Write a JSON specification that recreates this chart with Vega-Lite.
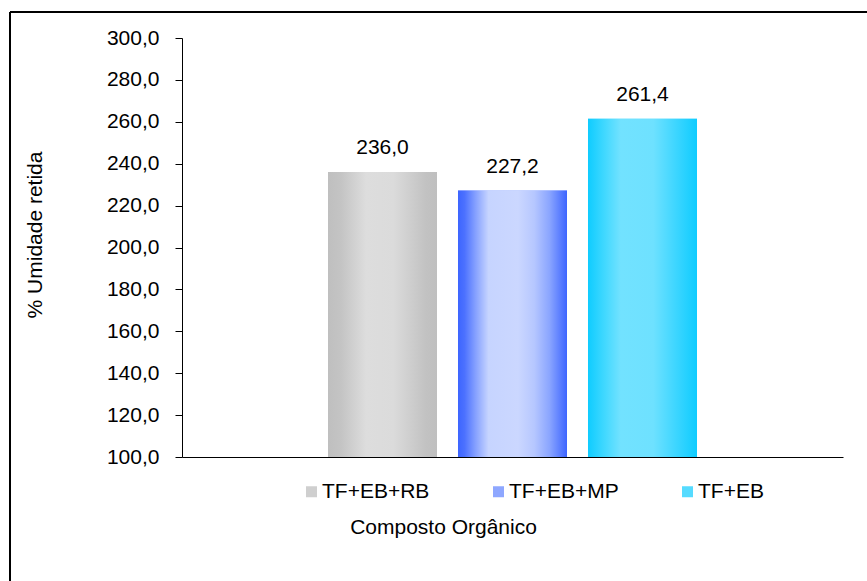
{
  "$schema": "https://vega.github.io/schema/vega-lite/v6.json",
  "width": 857,
  "height": 569,
  "autosize": {"type": "none"},
  "padding": {"left": 10, "top": 12, "right": 0, "bottom": 0},
  "background": "white",
  "config": {
    "locale": {"number": {"decimal": ",", "thousands": ".", "grouping": [3], "currency": ["R$", ""]}},
    "view": {"stroke": "black", "strokeWidth": 2, "fill": "white", "strokeDash": [857, 1426, 569, 0]},
    "font": "Liberation Sans",
    "axis": {"grid": false}
  },
  "data": {
    "values": [
      {"composto": "TF+EB+RB", "umidade": 236.0},
      {"composto": "TF+EB+MP", "umidade": 227.2},
      {"composto": "TF+EB", "umidade": 261.4}
    ]
  },
  "encoding": {
    "x": {
      "datum": "Composto Orgânico",
      "type": "nominal",
      "scale": {"range": [172, 833], "paddingInner": 0, "paddingOuter": 0},
      "axis": {
        "title": "Composto Orgânico",
        "labels": false,
        "ticks": false,
        "offset": -124,
        "domainColor": "black",
        "domainWidth": 1,
        "titleFont": "Liberation Sans",
        "titleFontSize": 21,
        "titleFontWeight": "normal",
        "titleColor": "black",
        "titleX": 433,
        "titleY": 76,
        "titleAlign": "center",
        "titleBaseline": "alphabetic"
      }
    },
    "xOffset": {
      "field": "composto",
      "type": "nominal",
      "sort": null,
      "scale": {"domain": ["TF+EB+RB", "TF+EB+MP", "TF+EB"], "range": [146, 515], "paddingInner": 0.1615, "paddingOuter": 0}
    },
    "y": {
      "field": "umidade",
      "type": "quantitative",
      "scale": {"domain": [100, 300], "range": [445, 26], "nice": false, "zero": false},
      "axis": {
        "title": "% Umidade retida",
        "values": [100, 120, 140, 160, 180, 200, 220, 240, 260, 280, 300],
        "format": ".1f",
        "offset": -172,
        "tickSize": 7,
        "tickColor": "black",
        "domainColor": "black",
        "labelPadding": 16,
        "labelFont": "Liberation Sans",
        "labelFontSize": 21,
        "labelColor": "black",
        "titleFont": "Liberation Sans",
        "titleFontSize": 21,
        "titleFontWeight": "normal",
        "titleColor": "black",
        "titleX": -147,
        "titleY": 222.5,
        "titleAngle": -90,
        "titleAlign": "center",
        "titleBaseline": "middle"
      }
    },
    "y2": {"datum": 100}
  },
  "layer": [
    {
      "mark": {"type": "bar", "strokeWidth": 0},
      "encoding": {
        "color": {
          "field": "composto",
          "type": "nominal",
          "scale": {
            "domain": ["TF+EB+RB", "TF+EB+MP", "TF+EB"],
            "range": ["#CFCFCF", "#8EA7FF", "#55DBFF"]
          },
          "legend": {
            "orient": "none",
            "legendX": 291,
            "legendY": 469,
            "direction": "horizontal",
            "title": null,
            "symbolType": "square",
            "symbolSize": 121,
            "symbolStrokeWidth": 0,
            "labelFont": "Liberation Sans",
            "labelFontSize": 21,
            "labelColor": "black",
            "labelOffset": 0,
            "columnPadding": 58,
            "padding": 0
          }
        }
      }
    },
    {
      "transform": [{"filter": "datum.composto === 'TF+EB+RB'"}],
      "mark": {"type": "bar", "strokeWidth": 0, "color": {"gradient": "linear", "x1": 0, "y1": 0, "x2": 1, "y2": 0, "stops": [
        {"offset": 0, "color": "#BFBFBF"},
        {"offset": 0.12, "color": "#C4C4C4"},
        {"offset": 0.35, "color": "#DDDDDD"},
        {"offset": 0.6, "color": "#DBDBDB"},
        {"offset": 0.9, "color": "#C2C2C2"},
        {"offset": 1, "color": "#BFBFBF"}
      ]}}
    },
    {
      "transform": [{"filter": "datum.composto === 'TF+EB+MP'"}],
      "mark": {"type": "bar", "strokeWidth": 0, "color": {"gradient": "linear", "x1": 0, "y1": 0, "x2": 1, "y2": 0, "stops": [
        {"offset": 0, "color": "#3D65FF"},
        {"offset": 0.06, "color": "#4C71FF"},
        {"offset": 0.16, "color": "#85A0FF"},
        {"offset": 0.28, "color": "#C6D4FF"},
        {"offset": 0.55, "color": "#CBD7FF"},
        {"offset": 0.7, "color": "#B6C7FF"},
        {"offset": 0.84, "color": "#8AA5FF"},
        {"offset": 1, "color": "#3D65FF"}
      ]}}
    },
    {
      "transform": [{"filter": "datum.composto === 'TF+EB'"}],
      "mark": {"type": "bar", "strokeWidth": 0, "color": {"gradient": "linear", "x1": 0, "y1": 0, "x2": 1, "y2": 0, "stops": [
        {"offset": 0, "color": "#0FCCFF"},
        {"offset": 0.15, "color": "#40D8FF"},
        {"offset": 0.3, "color": "#72E2FF"},
        {"offset": 0.6, "color": "#6EE1FF"},
        {"offset": 0.82, "color": "#3AD5FF"},
        {"offset": 1, "color": "#0FCCFF"}
      ]}}
    },
    {
      "mark": {"type": "text", "baseline": "middle", "dy": -24, "fontSize": 21, "font": "Liberation Sans", "color": "black"},
      "encoding": {
        "text": {"field": "umidade", "type": "quantitative", "format": ".1f"}
      }
    }
  ]
}
